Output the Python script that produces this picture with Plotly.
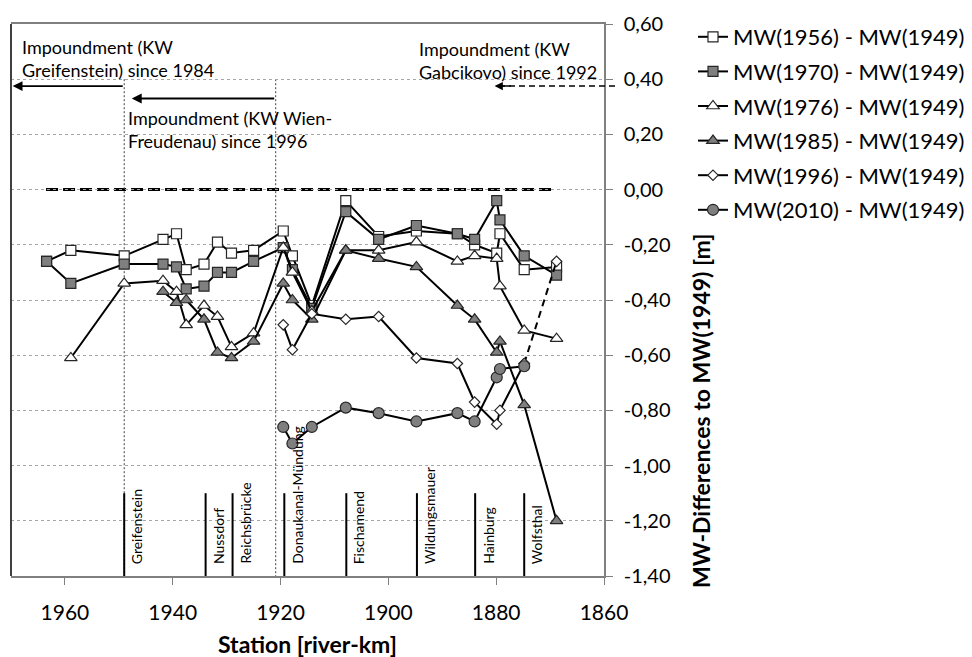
import plotly.graph_objects as go

# ---------------- data ----------------
km_1956 = [1963.4, 1958.9, 1949.0, 1941.8, 1939.3, 1937.5, 1934.2, 1931.7, 1929.1, 1925.0, 1919.5, 1917.8,
           1914.2, 1907.9, 1901.8, 1894.8, 1887.2, 1884.0, 1879.9, 1879.3, 1874.8, 1868.8]
mw_1956 = [-0.26, -0.22, -0.24, -0.18, -0.16, -0.29, -0.27, -0.19, -0.23, -0.22, -0.15, -0.24,
           -0.42, -0.04, -0.17, -0.15, -0.16, -0.20, -0.23, -0.16, -0.29, -0.28]

km_1970 = [1963.4, 1958.9, 1949.0, 1941.8, 1939.3, 1937.5, 1934.2, 1931.7, 1929.1, 1925.0, 1919.5, 1917.8,
           1914.2, 1907.9, 1901.8, 1894.8, 1887.2, 1884.0, 1879.9, 1879.3, 1874.8, 1868.8]
mw_1970 = [-0.26, -0.34, -0.27, -0.27, -0.28, -0.36, -0.35, -0.30, -0.30, -0.26, -0.21, -0.29,
           -0.43, -0.08, -0.18, -0.13, -0.16, -0.18, -0.04, -0.11, -0.24, -0.31]

km_1976 = [1958.9, 1949.0, 1941.8, 1939.3, 1937.5, 1934.2, 1931.7, 1929.1, 1925.0, 1919.5, 1917.8,
           1914.2, 1907.9, 1901.8, 1894.8, 1887.2, 1884.0, 1879.9, 1879.3, 1874.8, 1868.8]
mw_1976 = [-0.61, -0.34, -0.33, -0.37, -0.49, -0.42, -0.46, -0.57, -0.52, -0.21, -0.30,
           -0.44, -0.22, -0.22, -0.19, -0.26, -0.24, -0.25, -0.35, -0.51, -0.54]

km_1985 = [1941.8, 1939.3, 1937.5, 1934.2, 1931.7, 1929.1, 1925.0, 1919.5, 1917.8,
           1914.2, 1907.9, 1901.8, 1894.8, 1887.2, 1884.0, 1879.9, 1879.3, 1874.8, 1868.8]
mw_1985 = [-0.37, -0.41, -0.40, -0.47, -0.59, -0.61, -0.55, -0.34, -0.40,
           -0.47, -0.22, -0.25, -0.28, -0.42, -0.47, -0.59, -0.55, -0.78, -1.20]

km_1996 = [1919.5, 1917.8, 1914.2, 1907.9, 1901.8, 1894.8, 1887.2, 1884.0, 1879.9, 1879.3, 1874.8]
mw_1996 = [-0.49, -0.58, -0.45, -0.47, -0.46, -0.61, -0.63, -0.77, -0.85, -0.80, -0.63]
km_1996_dash = [1874.8, 1868.8]
mw_1996_dash = [-0.63, -0.26]

km_2010 = [1919.5, 1917.8, 1914.2, 1907.9, 1901.8, 1894.8, 1887.2, 1884.0, 1879.9, 1879.3, 1874.8]
mw_2010 = [-0.86, -0.92, -0.86, -0.79, -0.81, -0.84, -0.81, -0.84, -0.68, -0.65, -0.64]

stations = ["Greifenstein", "Nussdorf", "Reichsbrücke", "Donaukanal-Mündung",
            "Fischamend", "Wildungsmauer", "Hainburg", "Wolfsthal"]
station_km = [1949.0, 1933.9, 1928.9, 1919.3, 1907.8, 1894.7, 1883.9, 1874.8]

y_ticks = [0.6, 0.4, 0.2, 0.0, -0.2, -0.4, -0.6, -0.8, -1.0, -1.2, -1.4]
y_ticktext = ["0,60", "0,40", "0,20", "0,00", "-0,20", "-0,40", "-0,60", "-0,80", "-1,00", "-1,20", "-1,40"]
x_ticks = [1960, 1940, 1920, 1900, 1880, 1860]

FONT = "Lato"
W, H = 972, 657
L, R, T, B = 11, 368, 24, 81
PW = W - L - R
PH = H - T - B


def px_x(px):
    return (px - L) / PW


def px_y(py):
    return (H - B - py) / PH


fig = go.Figure()

line_style = dict(color="black", width=2)
mk_border = dict(color="#262626", width=1.2)

series = [
    ("MW(1956) - MW(1949)", km_1956, mw_1956, dict(symbol="square", size=10, color="white", line=mk_border)),
    ("MW(1970) - MW(1949)", km_1970, mw_1970, dict(symbol="square", size=10, color="#7f7f7f", line=mk_border)),
    ("MW(1976) - MW(1949)", km_1976, mw_1976, dict(symbol="triangle-up", size=11, color="white", line=mk_border)),
    ("MW(1985) - MW(1949)", km_1985, mw_1985, dict(symbol="triangle-up", size=11, color="#7f7f7f", line=mk_border)),
    ("MW(1996) - MW(1949)", km_1996, mw_1996, dict(symbol="diamond", size=8, color="white", line=mk_border)),
    ("MW(2010) - MW(1949)", km_2010, mw_2010, dict(symbol="circle", size=11, color="#7f7f7f", line=mk_border)),
]

for i, (name, xs, ys, mk) in enumerate(series):
    fig.add_trace(go.Scatter(x=xs, y=ys, mode="lines+markers", name=name, legendgroup=f"g{i}",
                             line=line_style, marker=mk))
    if name.startswith("MW(1996)"):
        fig.add_trace(go.Scatter(x=km_1996_dash, y=mw_1996_dash, mode="lines+markers",
                                 showlegend=False, legendgroup=f"g{i}",
                                 line=dict(color="black", width=2, dash="7px,5px"),
                                 marker=dict(symbol="diamond", size=8, color="white", line=mk_border)))

shapes = []
# left frame line
shapes.append(dict(type="line", xref="paper", yref="paper", x0=0, x1=0, y0=0, y1=1,
                   line=dict(color="#404040", width=2)))
# zero dashed line
shapes.append(dict(type="line", xref="x", yref="y", x0=1963.5, x1=1869.3, y0=0, y1=0,
                   line=dict(color="black", width=3, dash="12px,5px"), layer="below"))
# dotted vertical lines (impoundment limits)
for xv in [1949.0, 1920.9]:
    shapes.append(dict(type="line", xref="x", yref="y", x0=xv, x1=xv, y0=0.4, y1=-1.4,
                       line=dict(color="#404040", width=1, dash="2px,2px"), layer="below"))
# station lines
for xv in station_km:
    shapes.append(dict(type="line", xref="x", yref="y", x0=xv, x1=xv, y0=-1.1, y1=-1.4,
                       line=dict(color="black", width=2)))
# Gabcikovo dashed arrow shaft (extends past plot area)
shapes.append(dict(type="line", xref="paper", yref="y", x0=px_x(615), x1=px_x(498), y0=0.375, y1=0.375,
                   line=dict(color="black", width=1.5, dash="6px,4px")))

annotations = []
# arrows
annotations.append(dict(x=1969.7, y=0.375, ax=1949.0, ay=0.375, xref="x", yref="y", axref="x", ayref="y",
                        showarrow=True, arrowhead=2, arrowsize=1.1, arrowwidth=1.8, arrowcolor="black",
                        text="", standoff=0))
annotations.append(dict(x=1947.6, y=0.33, ax=1920.9, ay=0.33, xref="x", yref="y", axref="x", ayref="y",
                        showarrow=True, arrowhead=2, arrowsize=1.1, arrowwidth=1.8, arrowcolor="black",
                        text="", standoff=0))
annotations.append(dict(x=1880.3, y=0.375, ax=1877.0, ay=0.375, xref="x", yref="y", axref="x", ayref="y",
                        showarrow=True, arrowhead=2, arrowsize=1.1, arrowwidth=1.5, arrowcolor="black",
                        text="", standoff=0))

txt_font = dict(family=FONT, size=18, color="black")
annotations.append(dict(x=px_x(20), y=px_y(34), xref="paper", yref="paper", xanchor="left", yanchor="top",
                        align="left", showarrow=False, font=txt_font,
                        text="Impoundment (KW<br>Greifenstein) since 1984"))
annotations.append(dict(x=px_x(126), y=px_y(105), xref="paper", yref="paper", xanchor="left", yanchor="top",
                        align="left", showarrow=False, font=txt_font,
                        text="Impoundment (KW Wien-<br>Freudenau) since 1996"))
annotations.append(dict(x=px_x(417), y=px_y(36), xref="paper", yref="paper", xanchor="left", yanchor="top",
                        align="left", showarrow=False, font=txt_font,
                        text="Impoundment (KW<br>Gabcikovo) since 1992"))

# station labels
for name, xv in zip(stations, station_km):
    annotations.append(dict(x=xv, y=px_y(566), xref="x", yref="paper", xanchor="left", yanchor="bottom",
                            textangle=-90, showarrow=False, xshift=2,
                            font=dict(family=FONT, size=14, color="black"), text=name))

# axis titles
annotations.append(dict(x=px_x(307), y=px_y(644), xref="paper", yref="paper", xanchor="center",
                        yanchor="middle", showarrow=False,
                        font=dict(family=FONT, size=23, color="black"),
                        text="<b>Station [river-km]</b>"))
annotations.append(dict(x=px_x(701), y=px_y(411), xref="paper", yref="paper", xanchor="center",
                        yanchor="middle", showarrow=False, textangle=-90,
                        font=dict(family=FONT, size=23, color="black"),
                        text="<b>MW-Differences to MW(1949) [m]</b>"))

fig.update_layout(
    width=W, height=H,
    margin=dict(l=L, r=R, t=T, b=B, pad=0, autoexpand=False),
    paper_bgcolor="white", plot_bgcolor="white",
    font=dict(family=FONT, size=20, color="black"),
    shapes=shapes, annotations=annotations,
    showlegend=True,
    legend=dict(x=px_x(693), y=px_y(16), xanchor="left", yanchor="top",
                font=dict(family=FONT, size=22, color="black"),
                bgcolor="rgba(0,0,0,0)", itemwidth=30, tracegroupgap=3, traceorder="grouped"),
    xaxis=dict(range=[1970, 1860], tickvals=x_ticks, ticks="outside", ticklen=7, tickcolor="#808080",
               showgrid=False, zeroline=False, showline=True, linecolor="#808080", linewidth=1.5,
               mirror=True, ticklabelstandoff=10, tickfont=dict(family=FONT, size=21)),
    yaxis=dict(range=[-1.4, 0.6], side="right", tickvals=y_ticks, ticktext=y_ticktext,
               ticks="outside", ticklen=7, tickcolor="#808080",
               showgrid=True, gridcolor="#a6a6a6", griddash="dot", gridwidth=1,
               zeroline=False, showline=True, linecolor="#808080", linewidth=1.5,
               ticklabelstandoff=7, tickfont=dict(family=FONT, size=20)),
)

fig.write_html("out.html")
